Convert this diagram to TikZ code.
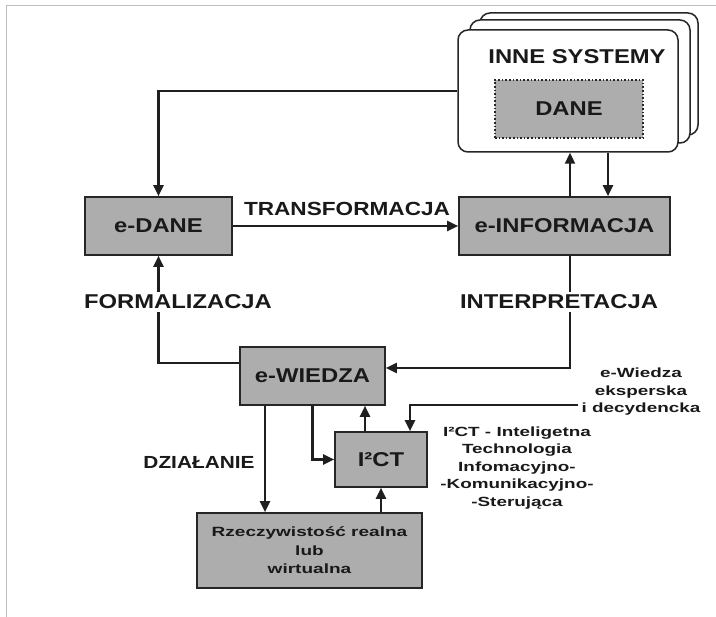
\documentclass[tikz,border=0pt]{standalone}
\usepackage{fontspec}
\setmainfont[FakeStretch=1.19]{Liberation Sans}
\newfontfamily\smallf[FakeStretch=1.42]{Liberation Sans}
\usetikzlibrary{arrows.meta}
\begin{document}
\begin{tikzpicture}[x=1pt,y=-1pt,
  box/.style={draw=black!85, line width=1.6pt, fill=black!32, inner sep=0pt,
    text=black!90, font=\bfseries\fontsize{20}{22}\selectfont},
  sysbox/.style={draw=black!85, line width=1.5pt, fill=white, rounded corners=10pt, inner sep=0pt},
  lbl/.style={text=black!90, inner sep=3pt, font=\bfseries\fontsize{20}{22}\selectfont},
  small/.style={text=black!90, inner sep=1pt, align=center, font=\smallf\bfseries\fontsize{13.3}{17.5}\selectfont},
  conn/.style={draw=black!88, line width=2.3pt},
  arr/.style={conn, -{Triangle[length=11pt,width=10pt]}},
  scan/.style={draw=black!25, line width=1pt}
]
\useasboundingbox (0,0) rectangle (716,617);
% scan border
\draw[scan] (6,617) -- (6,6) -- (716,6);

% stacked system boxes
\node[sysbox, minimum width=218pt, minimum height=122pt] (back) at (589,74) {};
\node[sysbox, minimum width=220pt, minimum height=123pt] (mid) at (580,81.5) {};
\node[sysbox, minimum width=220pt, minimum height=122pt] (front) at (568,91) {};
\node[lbl] (inne) at (577,57) {INNE SYSTEMY};
\node[box, dotted, line width=1.2pt, minimum width=148pt, minimum height=58pt] (dane) at (569,109) {DANE};

% main boxes
\node[box, minimum width=147pt, minimum height=58pt] (edane) at (158.5,226) {e-DANE};
\node[box, minimum width=211pt, minimum height=58pt] (einfo) at (564.5,226) {e-INFORMACJA};
\node[box, minimum width=145pt, minimum height=58pt] (ewiedza) at (312.5,376) {e-WIEDZA};
\node[box, minimum width=92pt, minimum height=55pt] (ict) at (381,459.5) {I²CT};
\node[box, minimum width=225pt, minimum height=75pt, align=center,
  font=\smallf\bfseries\fontsize{13.4}{18.5}\selectfont] (rzecz) at (309.5,550.5)
  {Rzeczywistość realna\\lub\\wirtualna};

% labels
\node[lbl, font=\bfseries\fontsize{19}{21}\selectfont] (transf) at (347,209) {TRANSFORMACJA};
\node[lbl] (formal) at (178,302) {FORMALIZACJA};
\node[lbl] (interp) at (559,302) {INTERPRETACJA};
\node[lbl, font=\bfseries\fontsize{17.5}{20}\selectfont] (dzial) at (199,462) {DZIAŁANIE};
\node[small] (ewtext) at (641,392) {e-Wiedza\\eksperska\\i decydencka};
\node[small] (ictdesc) at (517,468) {I²CT - Inteligetna\\Technologia\\Infomacyjno-\\-Komunikacyjno-\\-Sterująca};

% helper coordinates
\coordinate (u1) at ([xshift=5.5pt]einfo.north);
\coordinate (d1) at ([xshift=43.5pt]einfo.north);
\coordinate (w1) at ([xshift=-47.5pt]ewiedza.south);
\coordinate (c1) at ([xshift=-16pt]ict.north);
\coordinate (c2) at ([xshift=29pt]ict.north);
\coordinate (ew) at (578,405);

% connectors
\draw[arr] (front.west) -| (edane.north);
\draw[arr] (edane.east) -- (einfo.west);
\draw[arr] (u1) -- (u1 |- front.south);
\draw[arr] (d1 |- front.south) -- (d1);
\draw[conn] (u1 |- einfo.south) -- (u1 |- interp.north);
\draw[arr] (u1 |- interp.south) |- ([yshift=8pt]ewiedza.east);
\draw[conn] ([yshift=13pt]ewiedza.west) -| (formal.south -| edane.south);
\draw[arr] (formal.north -| edane.south) -- (edane.south);
\draw[arr] (w1) -- (w1 |- rzecz.north);
\draw[arr] (ewiedza.south) |- (ict.west);
\draw[arr] (c1) -- (c1 |- ewiedza.south);
\draw[arr] (ict.south |- rzecz.north) -- (ict.south);
\draw[arr] (ew) -| (c2);
\end{tikzpicture}
\end{document}
